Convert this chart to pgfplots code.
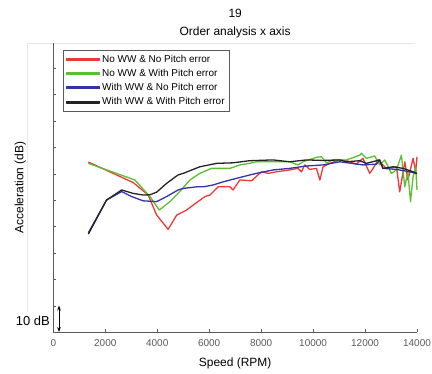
\documentclass[border=0pt]{standalone}
\usepackage{pgfplots}
\pgfplotsset{compat=1.18}
\usepackage{fontspec}
\setmainfont{Liberation Sans}
\usetikzlibrary{arrows.meta}
\definecolor{cred}{RGB}{240,55,55}
\definecolor{cgreen}{RGB}{90,190,50}
\definecolor{cblue}{RGB}{50,50,170}
\definecolor{cblack}{RGB}{35,35,35}
\definecolor{axgray}{RGB}{90,90,90}
\begin{document}
\begin{tikzpicture}
\useasboundingbox (-53.3bp,-42bp) rectangle (378.7bp,332bp);
\draw[gray!18] (-26.3bp,20bp) -- (-26.3bp,289bp) -- (361.7bp,289bp);
\begin{axis}[
  scale only axis,
  width=363.7bp, height=289bp,
  xmin=0, xmax=14000, ymin=0, ymax=109.5,
  axis x line=bottom, axis y line=left,
  axis line style={-, axgray},
  xtick={0,2000,...,14000},
  scaled x ticks=false,
  /pgf/number format/1000 sep={},
  /pgf/number format/assume math mode=true,
  ytick={0,10,...,100},
  yticklabels={},
  major tick length=3bp,
  tick align=inside,
  tick style={axgray},
  xticklabel style={font=\fontsize{10}{12}\selectfont, text=axgray, yshift=-4bp},
  clip=false,
  every axis y label/.style={at={(axis description cs:-0.0907,0.5)}, rotate=90, anchor=center},
  ylabel={\fontsize{12}{14}\selectfont Acceleration (dB)},
  every axis x label/.style={at={(axis description cs:0.5,-0.107)}, anchor=center},
  xlabel={\fontsize{12}{14}\selectfont Speed (RPM)},
  legend style={at={(0.026,0.976)}, anchor=north west, draw=axgray, font=\fontsize{10}{12}\selectfont, inner xsep=3bp, inner ysep=3bp, row sep=1.5bp},
  legend cell align=left,
  every axis plot/.append style={line width=1.3bp, line join=round},
]
\addplot[cred, forget plot] coordinates {
(1350,64.4) (3080,56.6) (3650,51.9) (3980,44.3) (4420,38.9) (4750,44.3) (5130,46.2) (5385,48.1) (5835,51.3) (6030,51.9) (6350,55.0) (6800,55.0) (6920,53.8) (7180,57.6) (7630,57.3) (8015,60.7) (8270,60.1) (8590,60.7) (9100,61.4) (9420,62.0) (9550,60.7) (9680,63.3) (9870,61.6) (10130,62.0) (10260,57.6) (10385,62.6) (10640,63.9) (11030,65.2) (11290,64.9) (11670,63.6) (11920,65.8) (12180,60.1) (12310,62.0) (12500,65.2) (12820,62.0) (13210,62.6) (13335,53.1) (13530,64.5) (13650,57.6) (13850,65.8) (13950,60.7) (14000,66.4)
};
\addplot[cgreen, forget plot] coordinates {
(1350,63.9) (3140,57.6) (3720,51.3) (4080,46.2) (4490,49.4) (4800,52.5) (5260,57.6) (5640,60.1) (6090,62.0) (6800,62.0) (7180,63.3) (7565,63.9) (7820,64.5) (9100,64.5) (9420,63.3) (9615,64.5) (10130,66.2) (10320,66.4) (10515,64.1) (10770,65.2) (11290,65.2) (11800,67.0) (11860,67.7) (12050,65.8) (12370,66.7) (12565,63.3) (12760,65.2) (13015,60.1) (13210,61.4) (13400,67.0) (13530,55.0) (13650,60.7) (13750,49.4) (13850,58.8) (13950,62.6) (14000,53.8)
};
\addplot[cblue, forget plot] coordinates {
(1350,37.6) (2050,50.0) (2630,53.2) (3020,51.3) (3460,49.7) (3980,49.4) (4360,51.3) (4800,53.8) (5000,54.4) (5515,55.0) (5770,55.0) (6150,55.7) (6540,56.9) (7050,58.2) (7565,59.5) (7820,60.1) (8460,61.4) (9100,62.0) (9750,62.9) (10380,63.3) (11030,64.5) (11920,63.3) (12440,63.6) (12565,65.2) (12690,62.0) (13210,61.6) (13720,60.7) (13980,60.1)
};
\addplot[cblack, forget plot] coordinates {
(1350,37.1) (2050,50.0) (2630,53.8) (3080,52.5) (3460,51.9) (3720,52.0) (3980,53.0) (4360,56.3) (4800,59.5) (5000,60.1) (5640,62.6) (6290,63.9) (6920,64.1) (7560,64.9) (8460,65.2) (9100,64.5) (9750,65.2) (10380,65.0) (11030,65.2) (11290,64.5) (11800,64.9) (12050,63.9) (12560,65.2) (12690,62.0) (13080,62.6) (13460,62.0) (13850,60.7) (14000,60.1)
};
\addlegendimage{legend image code/.code={\fill[cred] (0bp,-0.8bp) rectangle (33bp,0.8bp);}}
\addlegendentry{No WW \& No Pitch error}
\addlegendimage{legend image code/.code={\fill[cgreen] (0bp,-0.8bp) rectangle (33bp,0.8bp);}}
\addlegendentry{No WW \& With Pitch error}
\addlegendimage{legend image code/.code={\fill[cblue] (0bp,-0.8bp) rectangle (33bp,0.8bp);}}
\addlegendentry{With WW \& No Pitch error}
\addlegendimage{legend image code/.code={\fill[cblack] (0bp,-0.8bp) rectangle (33bp,0.8bp);}}
\addlegendentry{With WW \& With Pitch error}
\draw[{Stealth[length=5bp]}-{Stealth[length=5bp]}, line width=1bp, black] (axis cs:220,0) -- (axis cs:220,10);
\node[anchor=east, font=\fontsize{13}{15}\selectfont, inner sep=0pt] at (axis cs:-130,4.2) {10 dB};
\node[font=\fontsize{12}{14}\selectfont] at (rel axis cs:0.5,1) [yshift=11bp] {Order analysis x axis};
\node[font=\fontsize{12}{14}\selectfont] at (rel axis cs:0.5,1) [yshift=30bp] {19};
\end{axis}
\end{tikzpicture}
\end{document}
